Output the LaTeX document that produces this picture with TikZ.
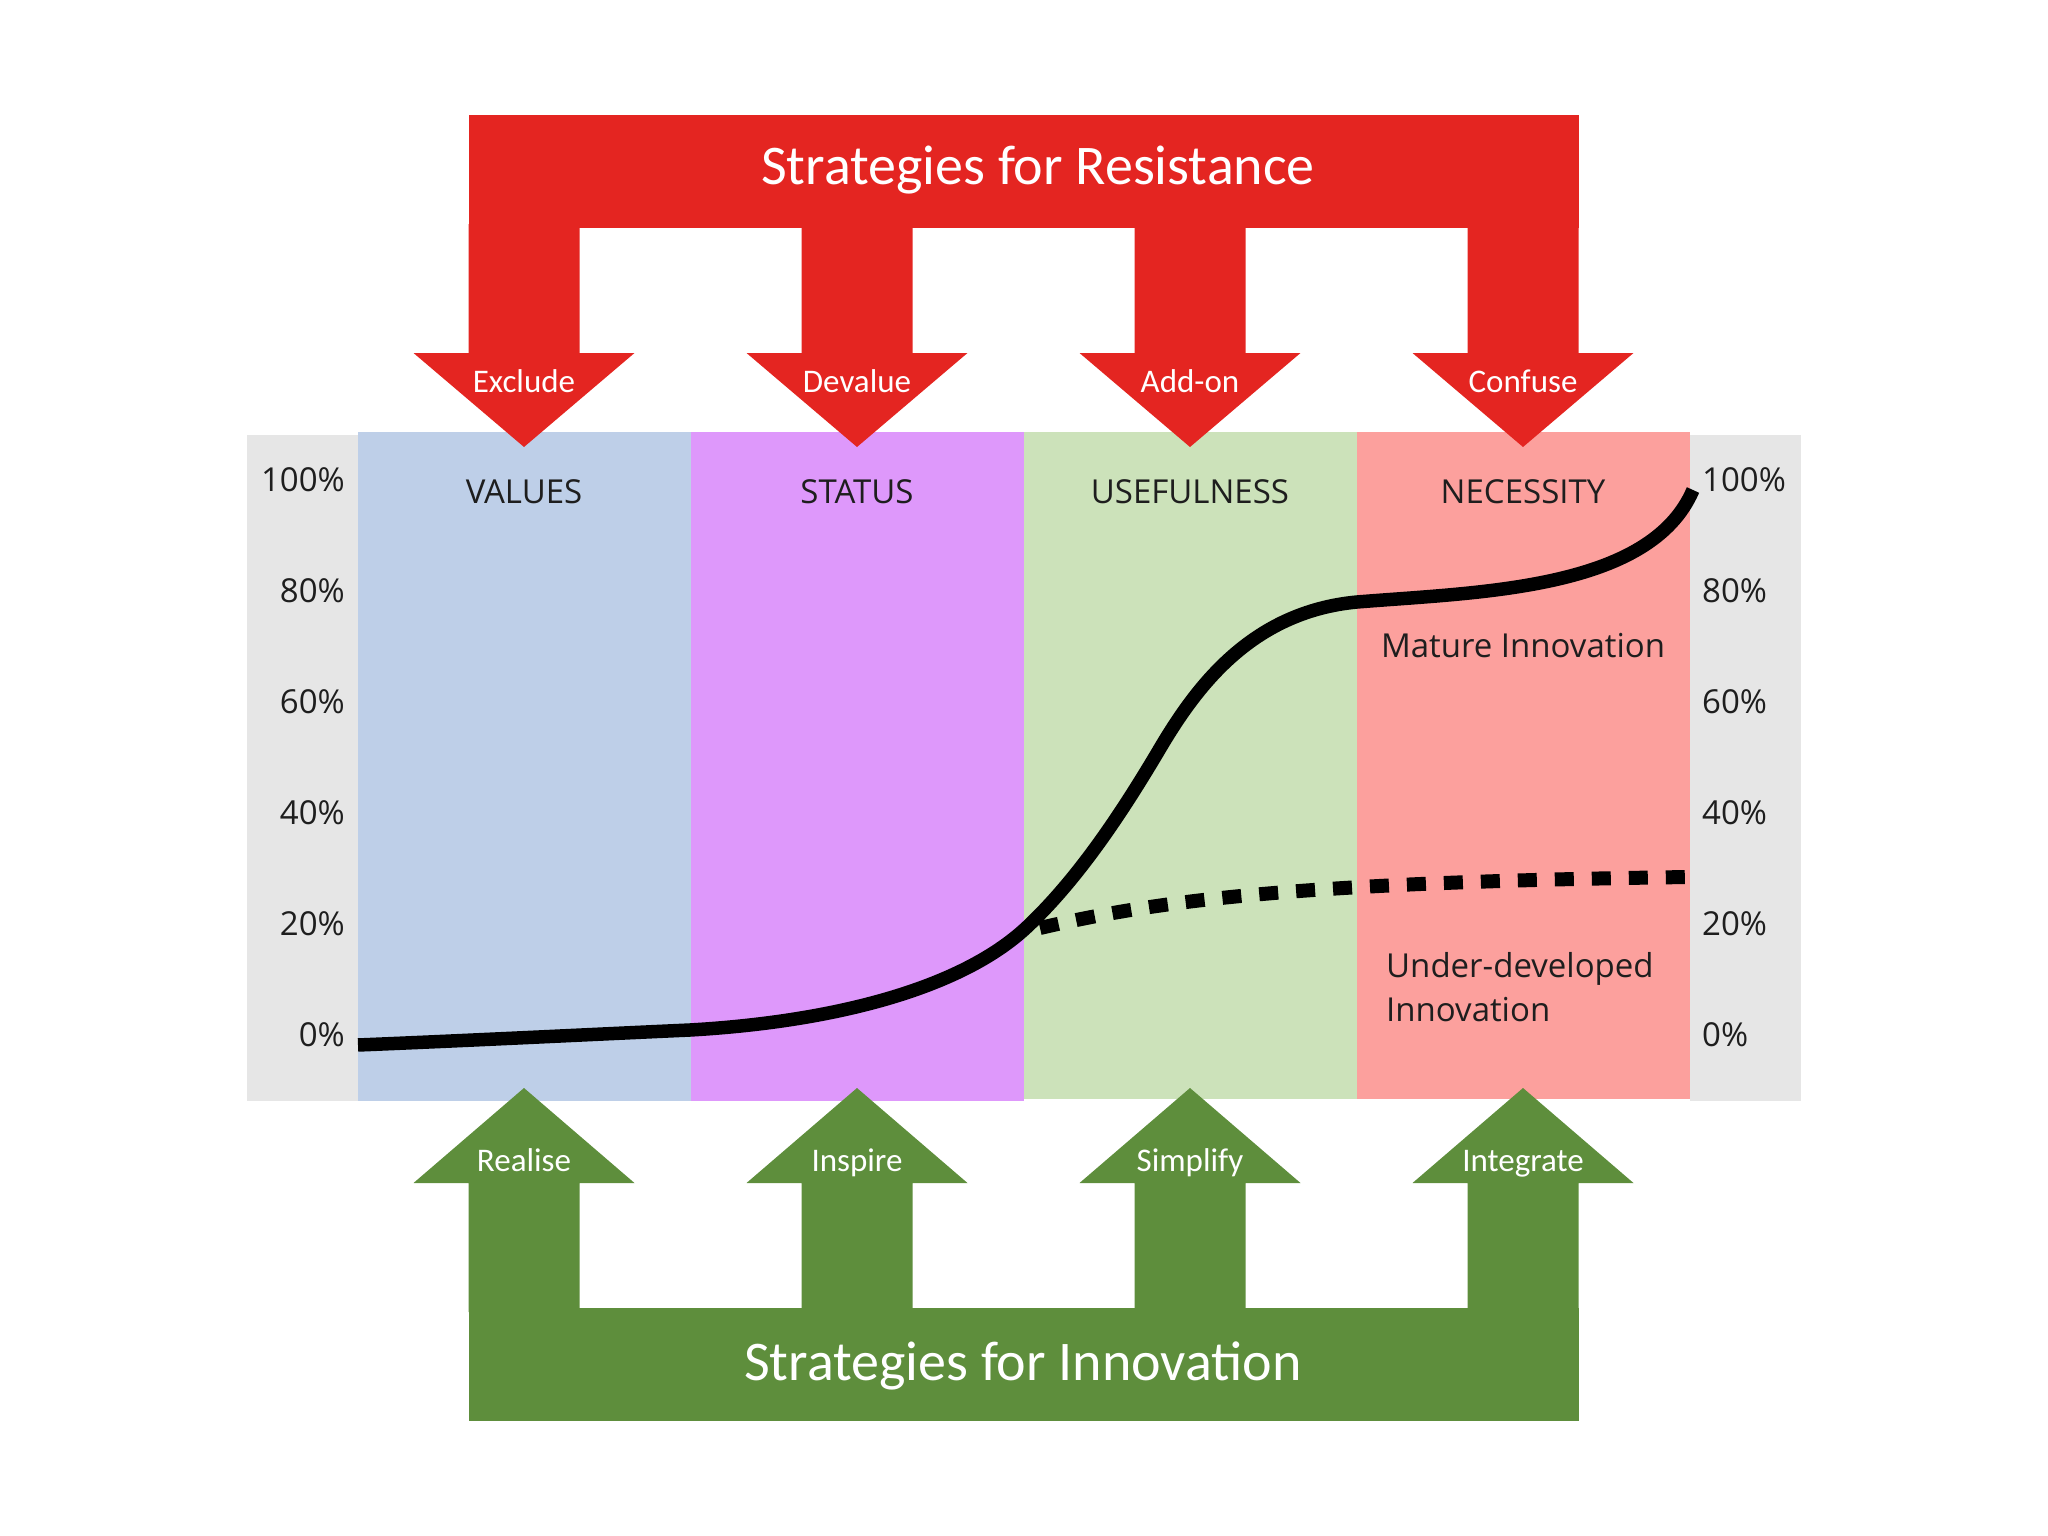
\documentclass[tikz,border=0pt]{standalone}
\usepackage{fontspec}
\setmainfont{Open Sans}
\newfontfamily\bannerfont{Carlito}
\definecolor{redc}{RGB}{228,37,33}
\definecolor{greenc}{RGB}{94,142,60}
\definecolor{grayband}{RGB}{230,230,230}
\definecolor{blueband}{RGB}{190,207,232}
\definecolor{purpleband}{RGB}{222,152,251}
\definecolor{greenband}{RGB}{204,226,186}
\definecolor{pinkband}{RGB}{252,160,157}
\definecolor{textdark}{RGB}{30,30,30}
\begin{document}
\begin{tikzpicture}[x=1pt,y=-1pt,
  chartlbl/.style={font=\fontsize{33}{40}\selectfont, text=textdark, inner sep=0pt},
  arrowlbl/.style={font=\bannerfont\fontsize{33}{40}\selectfont, text=white, inner sep=0pt, anchor=base},
  bannerlbl/.style={font=\bannerfont\fontsize{56}{64}\selectfont, text=white, inner sep=0pt, anchor=base},
  curve/.style={line width=13.5pt, black},
  underdev/.style={line width=14pt, black, dash pattern=on 19pt off 18pt},
]
\useasboundingbox (0,0) rectangle (2048,1536);
% bands
\fill[grayband] (247,435) rectangle (358,1101);
\fill[grayband] (1690,435) rectangle (1801,1101);
\fill[blueband] (358,432) rectangle (691,1101);
\fill[purpleband] (691,432) rectangle (1024,1101);
\fill[greenband] (1024,432) rectangle (1357,1099);
\fill[pinkband] (1357,432) rectangle (1690,1099);
% column titles
\node[chartlbl, anchor=base] (tvalues) at (524,503) {VALUES};
\node[chartlbl, anchor=base] (tstatus) at (857,503) {STATUS};
\node[chartlbl, anchor=base] (tuseful) at (1190,503) {USEFULNESS};
\node[chartlbl, anchor=base] (tnecess) at (1523,503) {NECESSITY};
% percent labels
\foreach \p/\yy in {100/491,80/602,60/713,40/824,20/935,0/1046}{
  \node[chartlbl, anchor=base east] (l\p) at (345,\yy) {\p\%};
  \node[chartlbl, anchor=base west] (r\p) at (1702,\yy) {\p\%};
}
% curves
\draw[underdev] (1040,928) .. controls (1160,900) and (1300,882) .. (1690,877);
\draw[curve] (358,1045) .. controls (480,1040) and (600,1034) .. (690,1030)
  .. controls (830,1022) and (960,990) .. (1027,927)
  .. controls (1080,877) and (1124,809) .. (1159,750)
  .. controls (1195,689) and (1250,612) .. (1357,602)
  .. controls (1480,592) and (1650,590) .. (1693,490);
% curve labels
\node[chartlbl, anchor=base] (mature) at (1523,657) {Mature Innovation};
\node[chartlbl, anchor=base west] (under1) at (1386,977) {Under-developed};
\node[chartlbl, anchor=base west] (under2) at (1386,1021) {Innovation};
% resistance arrows
\fill[redc] (469,115) rectangle (1579,228);
\foreach \cx in {524,857,1190,1523}{
  \fill[redc] (\cx-55.5,224) -- (\cx-55.5,353) -- (\cx-110.5,353) -- (\cx,447) -- (\cx+110.5,353) -- (\cx+55.5,353) -- (\cx+55.5,224) -- cycle;
}
% innovation arrows
\fill[greenc] (469,1308) rectangle (1579,1421);
\foreach \cx in {524,857,1190,1523}{
  \fill[greenc] (\cx-55.5,1312) -- (\cx-55.5,1183) -- (\cx-110.5,1183) -- (\cx,1088) -- (\cx+110.5,1183) -- (\cx+55.5,1183) -- (\cx+55.5,1312) -- cycle;
}
\node[bannerlbl] (resist) at (1038,184) {Strategies for Resistance};
\node[bannerlbl] (innov) at (1023,1380) {Strategies for Innovation};
\node[arrowlbl] (exclude) at (524,392) {Exclude};
\node[arrowlbl] (devalue) at (857,392) {Devalue};
\node[arrowlbl] (addon) at (1190,392) {Add-on};
\node[arrowlbl] (confuse) at (1523,392) {Confuse};
\node[arrowlbl] (realise) at (524,1171) {Realise};
\node[arrowlbl] (inspire) at (857,1171) {Inspire};
\node[arrowlbl] (simplify) at (1190,1171) {Simplify};
\node[arrowlbl] (integrate) at (1523,1171) {Integrate};
\end{tikzpicture}
\end{document}
